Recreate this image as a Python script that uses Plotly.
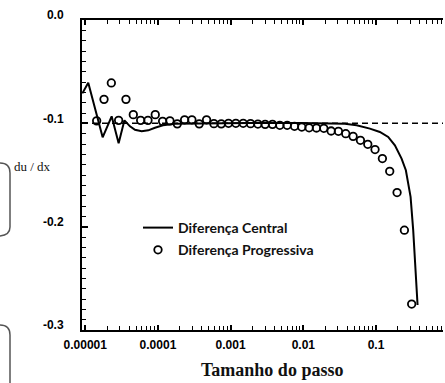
import plotly.graph_objects as go

# ---- data ----
prog_x = [1.435e-5, 1.811e-5, 2.284e-5, 2.877e-5, 3.631e-5, 4.581e-5, 5.781e-5, 7.295e-5,
          9.183e-5, 1.159e-4, 1.462e-4, 1.845e-4, 2.328e-4, 2.931e-4, 3.698e-4, 4.667e-4,
          5.888e-4, 7.430e-4, 9.354e-4, 1.180e-3, 1.489e-3, 1.879e-3, 2.371e-3, 2.985e-3,
          3.767e-3, 4.753e-3, 5.998e-3, 7.568e-3, 9.528e-3, 1.202e-2, 1.517e-2, 1.914e-2,
          2.415e-2, 3.041e-2, 3.837e-2, 4.842e-2, 6.109e-2, 7.709e-2, 9.705e-2, 0.1225,
          0.1545, 0.1950, 0.2460, 0.3097]
prog_y = [-0.0976, -0.0768, -0.0609, -0.0971, -0.0768, -0.0916, -0.0971, -0.0971,
          -0.0916, -0.0981, -0.0976, -0.1005, -0.0966, -0.0966, -0.1005, -0.0966,
          -0.1003, -0.1005, -0.1000, -0.1000, -0.1000, -0.1003, -0.1007, -0.1010,
          -0.1010, -0.1019, -0.1019, -0.1029, -0.1036, -0.1043, -0.1045, -0.1048,
          -0.1074, -0.1077, -0.1100, -0.1126, -0.1164, -0.1203, -0.1254, -0.1341,
          -0.1464, -0.1670, -0.2034, -0.2749]

cent_x = [9.12e-6, 1.099e-5, 1.734e-5, 2.307e-5, 2.877e-5, 3.459e-5, 4.121e-5, 4.831e-5,
          5.970e-5, 7.362e-5, 9.099e-5, 1.172e-4, 1.714e-4, 3.784e-4, 1.841e-3, 8.974e-3,
          2.323e-2, 3.733e-2, 5.408e-2, 8.241e-2, 0.1130, 0.1472, 0.1820, 0.2249,
          0.2576, 0.2992, 0.3251, 0.3540, 0.3733]
cent_y = [-0.0710, -0.0607, -0.1135, -0.0932, -0.1193, -0.0971, -0.1029, -0.1063,
          -0.1077, -0.1068, -0.1043, -0.1019, -0.1005, -0.1000, -0.0997, -0.0997,
          -0.0997, -0.1003, -0.1019, -0.1051, -0.1084, -0.1132, -0.1213, -0.1341,
          -0.1454, -0.1712, -0.2034, -0.2420, -0.2758]

exact_value = -0.1

x_tickvals = [1e-5, 1e-4, 1e-3, 1e-2, 1e-1]
x_ticktext = ["0.00001", "0.0001", "0.001", "0.01", "0.1"]
y_tickvals = [0.0, -0.1, -0.2, -0.3]
y_ticktext = ["0.0", "-0.1", "-0.2", "-0.3"]

series_names = ["Diferença Central", "Diferença Progressiva"]
x_title = "Tamanho do passo"
y_title = "du / dx"

# ---- figure ----
W, H = 445, 383
ML, MR, MT, MB = 82, 2, 20, 53
PW, PH = W - ML - MR, H - MT - MB


def fx(px):
    return (px - ML) / PW


def fy(py):
    return (H - MB - py) / PH


x_minor = [m * 10.0 ** k for k in range(-6, 0) for m in range(2, 10)]

fig = go.Figure()
fig.add_trace(go.Scatter(
    x=cent_x, y=cent_y, mode="lines", name="<b>" + series_names[0] + "</b>",
    line=dict(color="black", width=2), legendgroup="a"))
fig.add_trace(go.Scatter(
    x=prog_x, y=prog_y, mode="markers", name="<b>" + series_names[1] + "</b>",
    marker=dict(symbol="circle-open", size=7.5, color="black", line=dict(width=1.8)),
    legendgroup="b"))

fig.add_shape(type="line", xref="paper", x0=0, x1=1, yref="y", y0=exact_value, y1=exact_value,
              line=dict(color="black", width=1.5, dash="6px,4px"), layer="below")

bracket_color = "#555555"
path1 = (f"M {fx(0)},{fy(163)} Q {fx(10)},{fy(163)} {fx(10)},{fy(173)} "
         f"L {fx(10)},{fy(227)} Q {fx(10)},{fy(235)} {fx(0)},{fy(236)}")
path2 = (f"M {fx(0)},{fy(325)} Q {fx(10)},{fy(325)} {fx(10)},{fy(335)} L {fx(10)},{fy(390)}")
for p in (path1, path2):
    fig.add_shape(type="path", xref="paper", yref="paper", path=p,
                  line=dict(color=bracket_color, width=1.5))

fig.add_annotation(text=x_title, xref="paper", yref="paper", x=fx(272), y=fy(370),
                   xanchor="center", yanchor="middle", showarrow=False,
                   font=dict(family="Liberation Serif", size=18, color="#111", weight="bold"))
fig.add_annotation(text=y_title, xref="paper", yref="paper", x=fx(12), y=fy(166),
                   xanchor="left", yanchor="middle", showarrow=False,
                   font=dict(family="Liberation Serif", size=13, color="#111"))

tick_font = dict(family="Liberation Sans", size=12, color="black", weight="bold")

fig.update_layout(
    width=W, height=H,
    margin=dict(l=ML, r=MR, t=MT, b=MB),
    paper_bgcolor="white", plot_bgcolor="white",
    showlegend=True,
    legend=dict(x=fx(138), y=fy(212), xanchor="left", yanchor="top",
                bgcolor="rgba(0,0,0,0)", tracegroupgap=1,
                font=dict(family="Lato", size=14, color="#111")),
    xaxis=dict(type="log", range=[-5.045, -0.078], showgrid=False, zeroline=False,
               showline=True, linecolor="black", linewidth=2, mirror="allticks",
               ticks="inside", ticklen=5, tickwidth=1.5, tickcolor="black",
               tickmode="array", tickvals=x_tickvals, ticktext=x_ticktext,
               tickfont=tick_font, ticklabelstandoff=3,
               minor=dict(tickmode="array", tickvals=x_minor, ticks="inside",
                          ticklen=4, tickwidth=1.2, tickcolor="black", showgrid=False)),
    yaxis=dict(range=[-0.3, 0.0], showgrid=False, zeroline=False,
               showline=True, linecolor="black", linewidth=2, mirror=False,
               ticks="inside", ticklen=6, tickwidth=1.5, tickcolor="black",
               tickmode="array", tickvals=y_tickvals, ticktext=y_ticktext,
               tickfont=tick_font, ticklabelstandoff=14, ticklabelshift=-5,
               minor=dict(dtick=0.01, ticks="inside", ticklen=4, tickwidth=1.2,
                          tickcolor="black", showgrid=False)),
    yaxis2=dict(overlaying="y", side="right", range=[-0.3, 0.0], showgrid=False,
                zeroline=False, showline=False, showticklabels=False,
                ticks="inside", ticklen=2, tickwidth=1.5, tickcolor="#333",
                dtick=0.1, minor=dict(dtick=0.01, ticks="inside", ticklen=2,
                                      tickwidth=1.5, tickcolor="#333")),
)

fig.write_html("out.html", config={"displayModeBar": False},
               post_script="document.body.style.margin='0';document.body.style.padding='0';")
